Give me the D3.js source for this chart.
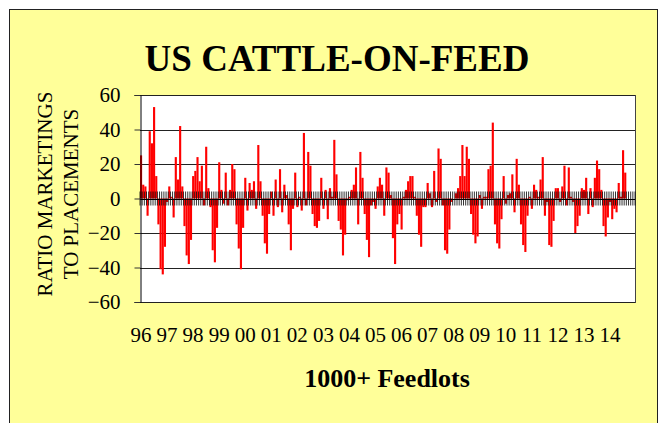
<!DOCTYPE html>
<html>
<head>
<meta charset="utf-8">
<script src="https://d3js.org/d3.v7.min.js"></script>
<style>
  body { margin: 0; background: #fff; }
  text { font-family: "Liberation Serif", "Times New Roman", serif; fill: #000; }
</style>
</head>
<body>
<div id="chart"></div>
<script>
// year labels on the category axis (monthly categories, 12 per year)
const years = ["96","97","98","99","00","01","02","03","04","05","06","07","08","09","10","11","12","13","14"];
const yTicks = [-60, -40, -20, 0, 20, 40, 60];

// ratio marketings to placements, monthly from Jan 1996
const ratio = [
  25, 8, 7, -10, 39, 32, 53, 13, -15, -41, -44, -28, -2, 7, 1, -11, 24, 11, 42, 7, -16, -33, -38, -24, 13, 16, 24, 10, 19, -4, 30, 6, -5,
  -30, -37, -17, 21, 5, -3, 15, -4, 5, 20, 17, -15, -29, -41, -17, 12, -7, 9, 5, 10, -6, 31, 10, -10, -26, -32, -9, 4, -10, 11, -5, 17,
  -8, 8, 2, -15, -30, -6, 15, -5, 1, -7, 38, -4, 27, 19, -9, -16, -17, -13, 12, -6, 5, -12, 6, 1, 34, 14, -13, -18, -33, -21, -1, 1, 5,
  8, 18, -15, 27, 12, -9, -24, -34, -4, -2, -6, 7, 12, 8, -10, 18, 15, 2, -23, -38, -15, -9, -18, 1, 5, 10, 13, 13, 1, -10, -21, -28,
  -5, -5, 9, 3, -5, 16, -2, 29, 23, -4, -30, -32, -18, -2, 0, 3, 6, 13, 31, 13, 30, 23, -9, -21, -26, -22, 2, -6, 1, 1, 17, 19, 44,
  -15, -26, -29, -12, 13, -3, 2, 3, 14, -8, 23, 8, -15, -27, -31, -10, 1, -6, 8, 5, 1, 11, 24, -10, -2, -27, -28, -13, 6, 6, -2, 7,
  19, -4, 18, 1, -2, -20, -16, -10, 6, 5, 12, -9, 6, -5, 12, 22, 17, 5, -16, -22, -11, -2, -12, -6, -8, 9, 1, 28, 15
];

const months = years.flatMap(y => d3.range(12).map(m => y + "-" + (m + 1)));

const W = 663, H = 423;
const plot = {left: 140, right: 635, top: 95, bottom: 302};

const svg = d3.select("#chart").append("svg")
    .attr("width", W)
    .attr("height", H);

// yellow chart area
svg.append("rect")
    .attr("x", 9.5).attr("y", 9.5)
    .attr("width", 648).attr("height", 430)
    .attr("fill", "#ffff99")
    .attr("stroke", "#222");

svg.append("rect")
    .attr("x", plot.left).attr("y", plot.top)
    .attr("width", plot.right - plot.left).attr("height", plot.bottom - plot.top)
    .attr("fill", "#fff");

const x = d3.scaleBand()
    .domain(months)
    .range([plot.left, plot.right])
    .paddingInner(0.02);

const y = d3.scaleLinear()
    .domain([-60, 60])
    .range([plot.bottom, plot.top]);

// gridlines
svg.append("g")
  .selectAll("line")
  .data(yTicks.filter(d => d !== 0))
  .join("line")
    .attr("x1", plot.left).attr("x2", plot.right)
    .attr("y1", d => Math.round(y(d)) + 0.5)
    .attr("y2", d => Math.round(y(d)) + 0.5)
    .attr("stroke", "#222");

// right border of plot
svg.append("line")
    .attr("x1", plot.right + 0.5).attr("x2", plot.right + 0.5)
    .attr("y1", plot.top).attr("y2", plot.bottom + 1)
    .attr("stroke", "#444");

// bars
svg.append("g")
  .selectAll("rect")
  .data(ratio)
  .join("rect")
    .attr("x", (d, i) => x(months[i]))
    .attr("width", x.bandwidth())
    .attr("y", d => y(Math.max(0, d)))
    .attr("height", d => Math.abs(y(d) - y(0)))
    .attr("fill", "#ff0000");

// zero line with month tick marks crossing it
const y0 = y(0);
const step = x.step();
svg.append("g")
  .selectAll("line")
  .data(d3.range(months.length + 1))
  .join("line")
    .attr("x1", i => plot.left + i * step)
    .attr("x2", i => plot.left + i * step)
    .attr("y1", y0 - 7).attr("y2", y0 + 7)
    .attr("stroke", "#000")
    .attr("stroke-width", 0.8);

svg.append("line")
    .attr("x1", plot.left).attr("x2", plot.right)
    .attr("y1", Math.round(y0) + 0.5).attr("y2", Math.round(y0) + 0.5)
    .attr("stroke", "#000");

// y axis
const yAxis = svg.append("g")
    .attr("transform", `translate(${plot.left + 0.5},0)`)
    .call(d3.axisLeft(y).tickValues(yTicks).tickSize(6).tickPadding(14));
yAxis.select(".domain").attr("stroke", "#000");
yAxis.selectAll(".tick line").attr("stroke", "#333");
yAxis.selectAll("text")
    .style("font-family", "Liberation Serif")
    .style("font-size", "21px");

// year labels at year starts
svg.append("g")
  .selectAll("text")
  .data(years)
  .join("text")
    .attr("x", (d, i) => x(d + "-1") + 1)
    .attr("y", 342)
    .attr("text-anchor", "middle")
    .style("font-size", "21px")
    .text(d => d);

// titles
svg.append("text")
    .attr("x", 337).attr("y", 71)
    .attr("text-anchor", "middle")
    .style("font-size", "37px")
    .style("font-weight", "bold")
    .text("US CATTLE-ON-FEED");

svg.append("text")
    .attr("x", 387).attr("y", 387)
    .attr("text-anchor", "middle")
    .style("font-size", "26px")
    .style("font-weight", "bold")
    .text("1000+ Feedlots");

svg.append("text")
    .attr("transform", "translate(52,194) rotate(-90)")
    .attr("text-anchor", "middle")
    .style("font-size", "21px")
    .text("RATIO MARKETINGS");

svg.append("text")
    .attr("transform", "translate(78,194) rotate(-90)")
    .attr("text-anchor", "middle")
    .style("font-size", "21px")
    .text("TO PLACEMENTS");
</script>
</body>
</html>
